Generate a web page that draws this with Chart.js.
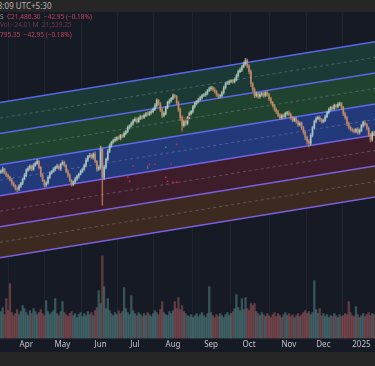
<!DOCTYPE html>
<html>
<head>
<meta charset="utf-8">
<script src="https://cdn.jsdelivr.net/npm/chart.js@4.4.1/dist/chart.umd.min.js"></script>
<style>
  html, body { margin: 0; padding: 0; background: #262626; width: 375px; height: 366px; overflow: hidden; font-family: "Noto Sans", sans-serif; }
  .topbar { position: absolute; left: 0; top: 0; width: 375px; height: 12px; color: #b4b4b4; font-size: 8px; line-height: 11px; white-space: nowrap; overflow: hidden; }
  .topbar span { position: relative; left: -18px; }
  .pane { position: absolute; left: 0; top: 12px; width: 375px; height: 340px; background: #161a25; }
  .legend { position: absolute; left: 0; top: 1px; font-size: 6.5px; line-height: 8px; white-space: nowrap; }
  .legend div { height: 8px; }
  .gray { color: #9a9ca4; }
  .red { color: #c2435a; }
  .faint { color: #6e3a48; }
  canvas { display: block; }
</style>
</head>
<body>
<div class="topbar"><span>13:23:09 UTC+5:30</span></div>
<div class="pane">
  <canvas id="chart" width="375" height="340"></canvas>
  <div class="legend">
    <div><span class="gray">S</span>&nbsp; <span class="red">C21,486.30 &nbsp;−42.95 (−0.18%)</span></div>
    <div class="faint">Vol · 24.01 M &nbsp;21,529.25</div>
    <div class="red" style="margin-top:2px">795.35 &nbsp;−42.95 (−0.18%)</div>
  </div>
</div>

<script>
// 1. Data

// daily closes, one per trading day (mid Mar 2024 -> early Jan 2025)
const closes = [
  20563, 20612, 20508, 20457, 20414, 20338, 20262, 20207, 20131, 20108,
  20186, 20259, 20364, 20455, 20588, 20634, 20689, 20607, 20713, 20758,
  20811, 20656, 20462, 20331, 20214, 20263, 20407, 20512, 20558, 20614,
  20657, 20688, 20631, 20739, 20783, 20706, 20561, 20458, 20333, 20236,
  20287, 20361, 20433, 20489, 20557, 20613, 20708, 20837, 20931, 20962,
  20907, 20989, 20806, 20614, 20658, 21112, 20408, 20663, 20857, 21061,
  21207, 21288, 21332, 21364, 21408, 21387, 21458, 21436, 21512, 21557,
  21663, 21709, 21762, 21833, 21864, 21807, 21889, 21932, 21911, 21963,
  22008, 21986, 22037, 22058, 22113, 22207, 22338, 22256, 22108, 21963,
  22012, 22157, 22288, 22331, 22389, 22458, 22437, 22282, 22113, 21907,
  21712, 21806, 21763, 21912, 22006, 22063, 22182, 22263, 22307, 22362,
  22408, 22463, 22482, 22513, 22588, 22632, 22661, 22607, 22563, 22482,
  22437, 22459, 22538, 22657, 22763, 22781, 22812, 22833, 22808, 22863,
  22958, 23063, 23107, 23188, 23257, 23338, 23206, 23062, 22757, 22613,
  22458, 22512, 22433, 22488, 22507, 22462, 22533, 22487, 22382, 22288,
  22207, 22113, 22058, 21962, 21907, 21963, 21932, 22013, 22031, 21988,
  21908, 21838, 21882, 21813, 21732, 21763, 21657, 21538, 21407, 21312,
  21258, 21463, 21657, 21812, 21883, 21913, 21857, 21808, 21837, 21932,
  22038, 22107, 22163, 22132, 22213, 22182, 22238, 22257, 22163, 22008,
  21912, 21757, 21663, 21607, 21588, 21557, 21613, 21532, 21588, 21707,
  21788, 21731, 21638, 21483, 21357, 21529.25, 21486.3
];
const firstOpen = 20530;

// wick length above / below the body
const wickUp = [
  35, 50, 20, 40, 30, 25, 45, 30, 20, 35,
  40, 25, 30, 55, 35, 45, 30, 25, 40, 35,
  50, 30, 25, 40, 20, 35, 45, 30, 25, 40,
  35, 50, 30, 25, 45, 30, 20, 35, 40, 25,
  30, 45, 35, 25, 40, 30, 35, 50, 30, 45,
  40, 35, 60, 30, 45, 80, 40, 50, 35, 45,
  40, 30, 35, 45, 25, 40, 30, 35, 45, 30,
  35, 25, 40, 30, 45, 35, 30, 40, 25, 35,
  30, 45, 25, 35, 40, 50, 45, 30, 35, 40,
  45, 30, 35, 40, 30, 45, 35, 30, 40, 35,
  50, 40, 35, 30, 45, 25, 35, 40, 30, 35,
  40, 30, 35, 45, 30, 40, 35, 30, 45, 35,
  30, 40, 35, 45, 30, 35, 40, 30, 35, 45,
  40, 35, 45, 30, 50, 60, 40, 35, 45, 30,
  40, 35, 30, 45, 35, 40, 30, 45, 35, 40,
  30, 35, 40, 30, 45, 35, 40, 30, 35, 45,
  40, 30, 35, 45, 30, 40, 35, 30, 40, 35,
  45, 40, 35, 30, 45, 35, 40, 30, 35, 40,
  35, 45, 30, 40, 35, 30, 45, 40, 35, 30,
  40, 35, 45, 30, 35, 40, 30, 45, 35, 40,
  30, 45, 35, 40, 30, 35, 40
];
const wickDn = [
  30, 45, 25, 35, 40, 30, 50, 35, 45, 60,
  35, 30, 40, 25, 35, 30, 45, 40, 30, 35,
  30, 40, 45, 35, 55, 40, 30, 35, 25, 30,
  40, 30, 35, 45, 30, 35, 40, 45, 35, 50,
  40, 30, 35, 45, 25, 35, 30, 40, 35, 30,
  35, 45, 40, 60, 35, 50, 700, 60, 45, 40,
  35, 40, 30, 35, 45, 30, 40, 35, 30, 40,
  35, 40, 30, 45, 35, 40, 30, 35, 45, 30,
  40, 35, 30, 45, 35, 30, 40, 45, 50, 60,
  40, 35, 30, 45, 35, 30, 40, 45, 50, 70,
  120, 45, 60, 40, 35, 30, 45, 40, 35, 30,
  35, 40, 30, 45, 35, 30, 40, 35, 45, 40,
  45, 35, 30, 40, 35, 30, 45, 35, 40, 30,
  35, 40, 30, 45, 35, 40, 50, 60, 70, 55,
  50, 40, 45, 35, 40, 45, 35, 40, 50, 45,
  40, 45, 50, 40, 45, 35, 40, 35, 45, 40,
  45, 40, 35, 50, 45, 40, 55, 50, 60, 70,
  90, 45, 40, 35, 40, 35, 45, 40, 35, 30,
  35, 40, 30, 45, 35, 40, 30, 35, 50, 55,
  45, 50, 40, 35, 45, 40, 35, 45, 40, 35,
  40, 35, 45, 50, 60, 40, 35
];

// volume (lakh shares)
const volumes = [
  270, 310, 240, 400, 280, 550, 260, 230, 250, 290,
  240, 270, 330, 300, 260, 230, 280, 250, 300, 270,
  240, 260, 290, 250, 230, 380, 270, 240, 260, 280,
  400, 250, 230, 270, 370, 260, 240, 220, 250, 270,
  230, 250, 210, 240, 260, 220, 250, 230, 270, 240,
  260, 230, 280, 310, 480, 350, 830, 520, 300, 400,
  280, 250, 230, 260, 240, 280, 250, 270, 510, 300,
  260, 240, 430, 280, 250, 230, 260, 240, 220, 250,
  230, 260, 240, 220, 250, 280, 260, 240, 290, 370,
  260, 240, 230, 270, 250, 280, 370, 300, 410, 290,
  330, 270, 250, 230, 220, 240, 210, 230, 250, 220,
  240, 260, 230, 210, 250, 520, 260, 230, 210, 240,
  220, 250, 230, 210, 240, 260, 230, 250, 270, 300,
  440, 310, 280, 400, 290, 410, 300, 280, 350, 330,
  350, 270, 250, 230, 260, 240, 220, 250, 230, 210,
  240, 260, 220, 250, 230, 210, 240, 260, 230, 250,
  220, 240, 210, 230, 250, 220, 240, 260, 280, 250,
  270, 240, 260, 580, 290, 250, 300, 230, 250, 220,
  240, 210, 230, 220, 250, 230, 210, 240, 220, 230,
  250, 240, 370, 260, 230, 220, 320, 240, 210, 230,
  250, 220, 240, 260, 230, 250, 240
];

// month labels on the time axis (bar index of first session)
const tickLabels = ['Apr', 'May', 'Jun', 'Jul', 'Aug', 'Sep', 'Oct', 'Nov', 'Dec', '2025'];
const tickIndex = [14, 34, 55, 74, 95, 116, 137, 159, 178, 199];

// regression channel: price of each line at first and last bar edge
const channelStart = [22285, 21505, 20725, 19945, 19165, 18385];
const channelEnd = [23810, 23030, 22250, 21470, 20690, 19910];

// small signal marks
const markIndex = [70, 71, 73, 81, 82, 85, 91, 92, 94, 95, 97, 97, 100, 101, 103, 104, 91, 81];
const markPrice = [20410, 20310, 20685, 20685, 20735, 20735, 20410, 20310, 20735, 20285, 20285, 21235, 21560, 21910, 21860, 21935, 21160, 20640];
const markUp = [false, false, false, false, false, false, false, false, false, false, false, false, false, false, false, false, true, true];


// 2. Build datasets

const n = closes.length;
const xMin = -0.5, xMax = n - 0.5;

const opens = closes.map((c, i) => i === 0 ? firstOpen : closes[i - 1]);
const upColor = 'rgba(190,216,200,0.66)';
const downColor = 'rgba(208,146,104,0.7)';

const bodies = [], wicks = [], vols = [], candleColors = [], volColors = [];
for (let i = 0; i < n; i++) {
  const o = opens[i], c = closes[i];
  const up = c >= o;
  bodies.push({ x: i, y: [o, c] });
  wicks.push({ x: i, y: [Math.min(o, c) - wickDn[i], Math.max(o, c) + wickUp[i]] });
  vols.push({ x: i, y: volumes[i] });
  candleColors.push(up ? upColor : downColor);
  volColors.push(up ? 'rgba(88,140,140,0.52)' : 'rgba(160,90,92,0.55)');
}

const lineColors = ['#5a66ea', '#5a66ea', '#5d68ee', '#7562e4', '#7a5fe0', '#7a5fe0'];
const bandColors = [null, '#1b3a35', '#1f432f', '#22397a', '#3e1d2a', '#3c2a20'];

const datasets = [];
for (let k = 0; k < channelStart.length; k++) {
  datasets.push({
    type: 'line',
    data: [{ x: xMin, y: channelStart[k] }, { x: xMax, y: channelEnd[k] }],
    borderColor: lineColors[k],
    borderWidth: 1.5,
    pointRadius: 0,
    fill: k === 0 ? false : '-1',
    backgroundColor: bandColors[k] || 'transparent',
    order: 10
  });
}
// dashed mid lines in each band
for (let k = 0; k < channelStart.length - 1; k++) {
  datasets.push({
    type: 'line',
    data: [
      { x: xMin, y: (channelStart[k] + channelStart[k + 1]) / 2 },
      { x: xMax, y: (channelEnd[k] + channelEnd[k + 1]) / 2 }
    ],
    borderColor: 'rgba(150,160,190,0.38)',
    borderWidth: 1,
    borderDash: [3, 3],
    pointRadius: 0,
    fill: false,
    order: 9
  });
}
datasets.push({
  type: 'bar', data: vols, yAxisID: 'yv',
  backgroundColor: volColors, barThickness: 1.6, grouped: false, order: 7
});
datasets.push({
  type: 'bar', data: wicks, backgroundColor: candleColors,
  barThickness: 0.8, grouped: false, order: 5
});
datasets.push({
  type: 'bar', data: bodies, backgroundColor: candleColors,
  barThickness: 1.1, grouped: false, order: 4
});
datasets.push({
  type: 'scatter',
  data: markIndex.map((x, i) => ({ x: x, y: markPrice[i] })),
  pointStyle: 'rect',
  pointRadius: 1.1,
  pointBackgroundColor: markUp.map(u => u ? '#1fa866' : '#e0204a'),
  pointBorderWidth: 0,
  order: 3
});


// 3. Chart

const chart = new Chart(document.getElementById('chart'), {
  data: { datasets: datasets },
  options: {
    responsive: false,
    animation: false,
    // plot runs right up to the canvas edges
    layout: { padding: 0, autoPadding: false },
    plugins: { legend: { display: false }, tooltip: { enabled: false } },
    scales: {
      x: {
        type: 'linear', min: xMin, max: xMax, offset: false,
        afterBuildTicks: (scale) => { scale.ticks = tickIndex.map(v => ({ value: v })); },
        afterFit: (scale) => { scale.paddingLeft = 0; scale.paddingRight = 0; },
        ticks: {
          color: '#c3c5cc', font: { size: 8, family: 'Noto Sans' }, padding: 2,
          maxRotation: 0, autoSkip: false,
          callback: (v) => tickLabels[tickIndex.indexOf(v)]
        },
        grid: { color: 'rgba(255,255,255,0.045)', drawTicks: false },
        border: { display: false }
      },
      y: { type: 'linear', min: 16360, max: 24560, display: false },
      yv: { type: 'linear', min: 0, max: 3280, display: false }
    }
  }
});
</script>
</body>
</html>
